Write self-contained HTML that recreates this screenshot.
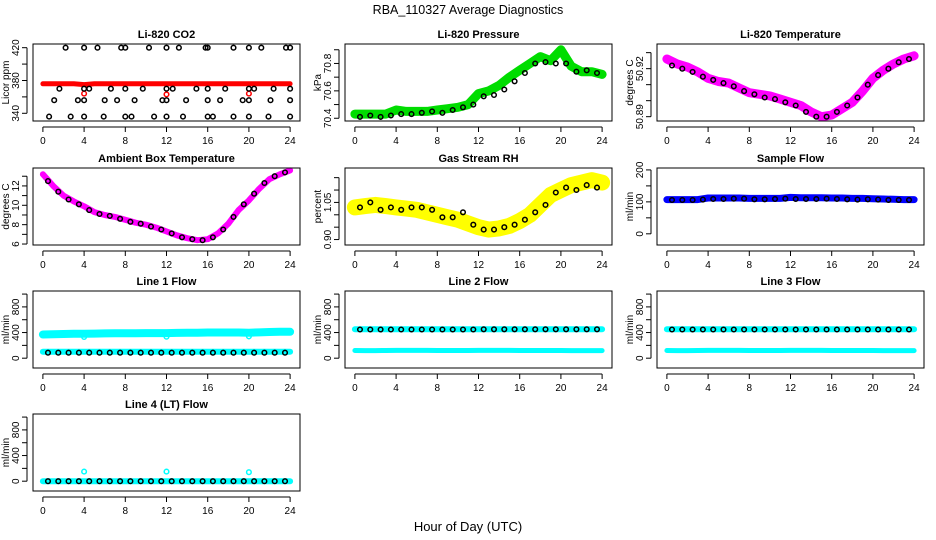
<!DOCTYPE html>
<html><head><meta charset="utf-8"><style>
body{margin:0;background:#fff}
svg{display:block}
text{font-family:"Liberation Sans",sans-serif}
</style></head><body>
<svg id="c" width="936" height="540" xmlns="http://www.w3.org/2000/svg">
<text x="468" y="14" text-anchor="middle" font-size="12.5">RBA_110327  Average Diagnostics</text>
<text x="468" y="531" text-anchor="middle" font-size="13">Hour of Day (UTC)</text>
</svg>
<script>
// ---- data ----
const hoursColor = [0,1,2,3,4,5,6,7,8,9,10,11,12,13,14,15,16,17,18,19,20,21,22,23,24];
const hoursBlack = [0.5,1.5,2.5,3.5,4.5,5.5,6.5,7.5,8.5,9.5,10.5,11.5,12.5,13.5,14.5,15.5,16.5,17.5,18.5,19.5,20.5,21.5,22.5,23.5];
const co2Red = [376,376,376,376,375,376,376,376,376,376,376,376,376,376,376,376,376,376,376,376,376,376,376,376,376];
const co2RedOutT = [4,12,20];
const co2RedOutV = [364,363,364];
const co2BlackT = [2.2,4,5.3,7.6,8,10.3,12,13.2,15.8,16,18.5,20,21.2,23.6,24, 1.6,4,4.5,6.6,8,9.7,12,12.6,14.9,16,17.7,20,20.5,22.4,24, 1.1,4,3.4,6,7.2,8.9,11.6,12,13.9,16,17.2,19.4,20,22.1,24, 0.6,2.7,4,5.9,8,8.6,10.8,12,13.6,16,16.5,18.5,20,21.9,24];
const co2BlackV = [420,420,420,420,420,420,420,420,420,420,420,420,420,420,420, 370,370,370,370,370,370,370,370,370,370,370,370,370,370,370, 356,356,356,356,356,356,356,356,356,356,356,356,356,356,356, 336,336,336,336,336,336,336,336,336,336,336,336,336,336,336];
const presGreen = [70.43,70.43,70.43,70.43,70.46,70.45,70.45,70.45,70.46,70.47,70.48,70.50,70.58,70.60,70.64,70.70,70.75,70.80,70.85,70.82,70.90,70.78,70.74,70.74,70.72];
const presBlack = [70.41,70.42,70.41,70.42,70.43,70.43,70.44,70.45,70.44,70.46,70.48,70.50,70.56,70.57,70.61,70.67,70.73,70.80,70.81,70.80,70.80,70.74,70.75,70.73];
const tempMag = [50.926,50.923,50.921,50.918,50.914,50.912,50.911,50.908,50.905,50.904,50.903,50.901,50.899,50.897,50.893,50.890,50.891,50.895,50.899,50.906,50.914,50.919,50.923,50.926,50.928];
const tempBlack = [50.922,50.920,50.918,50.915,50.913,50.911,50.909,50.906,50.904,50.902,50.901,50.899,50.897,50.893,50.890,50.890,50.893,50.897,50.902,50.910,50.916,50.920,50.924,50.926];
const ambMag = [13.2,12.0,11.0,10.4,9.9,9.3,9.0,8.8,8.5,8.2,8.0,7.7,7.3,6.9,6.6,6.4,6.5,7.1,8.1,9.5,10.5,11.7,12.7,13.2,13.6];
const ambBlack = [12.5,11.4,10.6,10.1,9.5,9.1,8.9,8.6,8.3,8.1,7.8,7.5,7.1,6.7,6.5,6.4,6.7,7.5,8.8,10.1,11.2,12.3,13.0,13.4];
const rhYellow = [1.03,1.035,1.04,1.035,1.03,1.025,1.02,1.01,1.00,0.99,0.98,0.965,0.95,0.94,0.945,0.955,0.975,1.00,1.04,1.08,1.10,1.12,1.13,1.14,1.13];
const rhBlack = [1.03,1.05,1.02,1.03,1.02,1.03,1.03,1.02,0.99,0.99,1.01,0.96,0.94,0.94,0.95,0.96,0.98,1.01,1.04,1.09,1.11,1.10,1.12,1.11];
const sampleBlue = [107,107,107,107,112,112,112,112,111,111,111,111,114,113,113,113,112,112,111,111,110,109,108,107,107];
const sampleBlack = [106,106,106,107,109,109,110,110,108,108,109,110,109,109,109,110,109,108,107,108,107,106,106,106];
const l1Upper = [370,372,378,380,382,384,386,388,390,390,391,392,392,394,396,398,400,400,400,400,398,402,408,412,412];
const l1Lower = [100,100,100,100,100,100,100,100,100,100,100,100,100,100,100,100,100,100,100,100,100,100,100,100,100];
const l1Black = [85,85,85,85,85,85,85,85,85,85,85,85,85,85,85,85,85,85,85,85,85,85,85,85];
const l1OutT = [4,12,20];
const l1OutV = [330,335,340];
const l2Upper = [450,450,450,450,450,450,450,450,450,450,450,450,452,452,452,452,452,452,452,452,452,452,452,452,452];
const l2Lower = [120,118,118,120,122,122,122,122,120,120,120,120,122,122,122,122,120,120,120,120,120,118,118,118,118];
const l2Black = [448,448,448,448,448,448,448,448,448,448,448,448,450,450,450,450,450,450,450,450,450,450,450,450];
const l3Upper = [450,450,450,450,450,450,450,450,450,450,450,450,450,450,450,450,450,450,450,450,450,450,450,450,450];
const l3Lower = [120,118,118,120,122,122,122,122,120,120,120,120,122,122,122,122,120,120,120,120,120,118,118,118,118];
const l3Black = [448,448,448,448,448,448,448,448,448,448,448,448,448,448,448,448,448,448,448,448,448,448,448,448];
const l4Cyan = [0,0,0,0,0,0,0,0,0,0,0,0,0,0,0,0,0,0,0,0,0,0,0,0,0];
const l4Black = [0,0,0,0,0,0,0,0,0,0,0,0,0,0,0,0,0,0,0,0,0,0,0,0];
const l4OutT = [4,12,20];
const l4OutV = [150,150,140];
const xTicks = [0,4,8,12,16,20,24];

const NS = "http://www.w3.org/2000/svg";
const svg = document.getElementById('c');
const colL = [33,345,657], rowT = [44,168,291,414], W = 267, H = 77;
function mk(tag, attrs, parent){ const e=document.createElementNS(NS,tag); for(const k in attrs) e.setAttribute(k,attrs[k]); (parent||svg).appendChild(e); return e; }

function panel(cfg){
  const g = mk('g',{});
  
  
  const L = colL[cfg.col], T = rowT[cfg.row];
  const xs = t => L + (t + 0.96) * W / 25.92;
  const ys = v => T + H - (v - cfg.ylim[0]) / (cfg.ylim[1] - cfg.ylim[0]) * H;
  const t = mk('text',{x:L+W/2,y:T-6,'text-anchor':'middle','font-size':11,'font-weight':'bold'},g);
  t.textContent = cfg.title;
  
  
  cfg.series.forEach(s => {
    if (s.type === 'band') {
      const pts = s.t.map((tt,i)=>xs(tt).toFixed(1)+','+ys(s.v[i]).toFixed(1)).join(' ');
      const p = mk('polyline',{points:pts,fill:'none',stroke:s.color,'stroke-width':s.w,'stroke-linejoin':'round','stroke-linecap':'round'},g);
      
      
    } else {
      s.t.forEach((tt,i) => {
        const c = mk('circle',{cx:xs(tt).toFixed(1),cy:ys(s.v[i]).toFixed(1),r:2.3,fill:'none',stroke:s.color,'stroke-width':1.5},g);
        
        
      });
    }
  });
  const box = mk('rect',{x:L,y:T,width:W,height:H,fill:'none',stroke:'#000','stroke-width':1},g);
  
  
  mk('line',{x1:xs(0),x2:xs(24),y1:T+H+6,y2:T+H+6,stroke:'#000'},g);
  xTicks.forEach(v => {
    mk('line',{x1:xs(v),x2:xs(v),y1:T+H+6,y2:T+H+11,stroke:'#000'},g);
    const l = mk('text',{x:xs(v),y:T+H+23,'text-anchor':'middle','font-size':10},g);
    l.textContent = v;
    
    
  });
  const yt = cfg.yticks;
  mk('line',{x1:L-6,x2:L-6,y1:ys(yt[0]),y2:ys(yt[yt.length-1]),stroke:'#000'},g);
  yt.forEach(v => mk('line',{x1:L-11,x2:L-6,y1:ys(v),y2:ys(v),stroke:'#000'},g));
  cfg.ylabels.forEach(v => {
    const y = ys(parseFloat(v));
    const l = mk('text',{x:L-14,y:y,'text-anchor':'middle','font-size':10,transform:`rotate(-90 ${L-14} ${y})`},g);
    l.textContent = v;
    
    
  });
  const ya = mk('text',{x:L-24,y:T+H/2,'text-anchor':'middle','font-size':10,transform:`rotate(-90 ${L-24} ${T+H/2})`},g);
  ya.textContent = cfg.ylab;
  
  
}
const flowTicks = [0,200,400,600,800,1000], flowLab = ['0','400','800'];
panel({name:'co2-panel',col:0,row:0,title:'Li-820 CO2',ylab:'Licor ppm',ylim:[330.6,424.5],yticks:[340,360,380,400,420],ylabels:['340','380','420'],
  series:[{type:'band',t:hoursColor,v:co2Red,color:'#f00',w:5,label:'co2-red-series'},{type:'pts',t:co2RedOutT,v:co2RedOutV,color:'#f00',label:'co2-red-outlier'},{type:'pts',t:co2BlackT,v:co2BlackV,color:'#000',label:'co2-black-point'}]});
panel({name:'pressure-panel',col:1,row:0,title:'Li-820 Pressure',ylab:'kPa',ylim:[70.38,70.942],yticks:[70.4,70.5,70.6,70.7,70.8,70.9],ylabels:['70.4','70.6','70.8'],
  series:[{type:'band',t:hoursColor,v:presGreen,color:'#00dd00',w:9,label:'pressure-green-series'},{type:'pts',t:hoursBlack,v:presBlack,color:'#000',label:'pressure-black-point'}]});
panel({name:'temperature-panel',col:2,row:0,title:'Li-820 Temperature',ylab:'degrees C',ylim:[50.8873,50.9354],yticks:[50.89,50.9,50.91,50.92,50.93],ylabels:['50.89','50.92'],
  series:[{type:'band',t:hoursColor,v:tempMag,color:'#ff00ff',w:9,label:'temperature-magenta-series'},{type:'pts',t:hoursBlack,v:tempBlack,color:'#000',label:'temperature-black-point'}]});
panel({name:'ambient-panel',col:0,row:1,title:'Ambient Box Temperature',ylab:'degrees C',ylim:[5.9,13.85],yticks:[6,7,8,9,10,11,12,13],ylabels:['6','8','10','12'],
  series:[{type:'band',t:hoursColor,v:ambMag,color:'#ff00ff',w:6,label:'ambient-magenta-series'},{type:'pts',t:hoursBlack,v:ambBlack,color:'#000',label:'ambient-black-point'}]});
panel({name:'rh-panel',col:1,row:1,title:'Gas Stream RH',ylab:'percent',ylim:[0.878,1.189],yticks:[0.9,0.95,1.0,1.05,1.1,1.15],ylabels:['0.90','1.05'],
  series:[{type:'band',t:hoursColor,v:rhYellow,color:'#ffff00',w:16,label:'rh-yellow-series'},{type:'pts',t:hoursBlack,v:rhBlack,color:'#000',label:'rh-black-point'}]});
panel({name:'sample-flow-panel',col:2,row:1,title:'Sample Flow',ylab:'ml/min',ylim:[-35,206],yticks:[0,50,100,150,200],ylabels:['0','100','200'],
  series:[{type:'band',t:hoursColor,v:sampleBlue,color:'#0000ff',w:7,label:'sample-blue-series'},{type:'pts',t:hoursBlack,v:sampleBlack,color:'#000',label:'sample-black-point'}]});
panel({name:'line1-panel',col:0,row:2,title:'Line 1 Flow',ylab:'ml/min',ylim:[-153,1048],yticks:flowTicks,ylabels:flowLab,
  series:[{type:'band',t:hoursColor,v:l1Upper,color:'#00ffff',w:8,label:'line1-upper-series'},{type:'pts',t:l1OutT,v:l1OutV,color:'#00ffff',label:'line1-outlier'},{type:'band',t:hoursColor,v:l1Lower,color:'#00ffff',w:6,label:'line1-lower-series'},{type:'pts',t:hoursBlack,v:l1Black,color:'#000',label:'line1-black-point'}]});
panel({name:'line2-panel',col:1,row:2,title:'Line 2 Flow',ylab:'ml/min',ylim:[-153,1048],yticks:flowTicks,ylabels:flowLab,
  series:[{type:'band',t:hoursColor,v:l2Upper,color:'#00ffff',w:6,label:'line2-upper-series'},{type:'band',t:hoursColor,v:l2Lower,color:'#00ffff',w:5,label:'line2-lower-series'},{type:'pts',t:hoursBlack,v:l2Black,color:'#000',label:'line2-black-point'}]});
panel({name:'line3-panel',col:2,row:2,title:'Line 3 Flow',ylab:'ml/min',ylim:[-153,1048],yticks:flowTicks,ylabels:flowLab,
  series:[{type:'band',t:hoursColor,v:l3Upper,color:'#00ffff',w:6,label:'line3-upper-series'},{type:'band',t:hoursColor,v:l3Lower,color:'#00ffff',w:5,label:'line3-lower-series'},{type:'pts',t:hoursBlack,v:l3Black,color:'#000',label:'line3-black-point'}]});
panel({name:'line4-panel',col:0,row:3,title:'Line 4 (LT) Flow',ylab:'ml/min',ylim:[-153,1048],yticks:flowTicks,ylabels:flowLab,
  series:[{type:'band',t:hoursColor,v:l4Cyan,color:'#00ffff',w:6,label:'line4-cyan-series'},{type:'pts',t:l4OutT,v:l4OutV,color:'#00ffff',label:'line4-outlier'},{type:'pts',t:hoursBlack,v:l4Black,color:'#000',label:'line4-black-point'}]});
</script>
</body></html>
